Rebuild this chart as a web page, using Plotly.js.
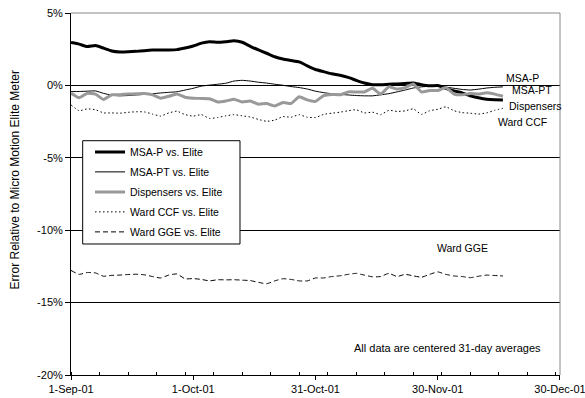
<!DOCTYPE html>
<html><head><meta charset="utf-8">
<script src="https://cdn.plot.ly/plotly-3.0.1.min.js"></script>
<style>html,body{margin:0;padding:0;background:#fff}#chart{width:585px;height:398px}</style>
</head><body><div id="chart"></div>
<script>
// Dates (every second day, 1-Sep-01 to 16-Dec-01)
const dates = ['2001-09-01','2001-09-03','2001-09-05','2001-09-07','2001-09-09','2001-09-11','2001-09-13','2001-09-15','2001-09-17','2001-09-19',
'2001-09-21','2001-09-23','2001-09-25','2001-09-27','2001-09-29','2001-10-01','2001-10-03','2001-10-05','2001-10-07','2001-10-09',
'2001-10-11','2001-10-13','2001-10-15','2001-10-17','2001-10-19','2001-10-21','2001-10-23','2001-10-25','2001-10-27','2001-10-29',
'2001-10-31','2001-11-02','2001-11-04','2001-11-06','2001-11-08','2001-11-10','2001-11-12','2001-11-14','2001-11-16','2001-11-18',
'2001-11-20','2001-11-22','2001-11-24','2001-11-26','2001-11-28','2001-11-30','2001-12-02','2001-12-04','2001-12-06','2001-12-08',
'2001-12-10','2001-12-12','2001-12-14','2001-12-16'];

// Error relative to Micro Motion Elite meter, in %
const msaP = [2.96,2.85,2.68,2.75,2.57,2.38,2.31,2.32,2.35,2.40,
2.44,2.45,2.45,2.47,2.58,2.72,2.92,3.02,2.98,3.02,
3.08,2.98,2.70,2.45,2.22,1.98,1.82,1.72,1.62,1.35,
1.10,0.95,0.80,0.70,0.55,0.35,0.17,0.05,0.05,0.08,
0.10,0.13,0.17,0.05,-0.03,-0.01,-0.20,-0.38,-0.52,-0.72,
-0.85,-0.95,-0.99,-1.00];
const msaPT = [-0.43,-0.42,-0.40,-0.38,-0.55,-0.68,-0.72,-0.70,-0.66,-0.62,
-0.58,-0.52,-0.48,-0.44,-0.32,-0.20,-0.05,0.02,0.08,0.15,
0.30,0.35,0.30,0.22,0.16,0.08,0.01,-0.08,-0.15,-0.25,
-0.40,-0.50,-0.58,-0.62,-0.66,-0.70,-0.72,-0.72,-0.65,-0.57,
-0.45,-0.32,-0.18,-0.10,-0.06,-0.05,-0.12,-0.20,-0.28,-0.32,
-0.26,-0.18,-0.13,-0.10];
const dispensers = [-0.54,-0.85,-0.55,-0.60,-0.98,-0.65,-0.64,-0.60,-0.58,-0.56,
-0.65,-0.88,-0.75,-0.60,-0.82,-0.88,-0.90,-0.92,-1.15,-1.08,
-0.95,-1.14,-1.08,-1.30,-1.25,-1.42,-1.18,-1.25,-0.78,-1.00,
-1.10,-0.70,-0.62,-0.65,-0.45,-0.45,-0.45,-0.20,-0.60,-0.10,
-0.25,-0.15,0.10,-0.45,-0.35,-0.35,-0.15,-0.60,-0.65,-0.56,
-0.60,-0.50,-0.60,-0.75];
const wardCCF = [-1.35,-1.75,-1.62,-1.68,-1.90,-1.90,-1.92,-1.86,-1.82,-1.83,
-1.98,-2.12,-1.90,-1.78,-2.02,-2.12,-2.02,-2.28,-2.22,-2.10,
-2.02,-2.10,-2.18,-2.35,-2.48,-2.40,-2.15,-2.20,-2.02,-2.20,
-2.22,-2.00,-1.92,-1.85,-1.75,-1.68,-1.90,-1.85,-2.02,-1.72,
-1.80,-1.76,-1.62,-2.00,-1.75,-1.65,-1.48,-1.75,-1.88,-1.92,
-1.98,-1.90,-1.72,-1.58];
const wardGGE = [-12.78,-13.05,-12.92,-12.95,-13.18,-13.12,-13.10,-13.06,-13.04,-13.08,
-13.20,-13.30,-13.10,-13.02,-13.36,-13.34,-13.40,-13.50,-13.42,-13.43,
-13.42,-13.45,-13.48,-13.60,-13.70,-13.50,-13.35,-13.40,-13.50,-13.50,
-13.30,-13.30,-13.20,-13.15,-13.05,-12.98,-13.10,-13.22,-13.20,-12.98,
-13.20,-13.05,-13.15,-13.25,-13.05,-12.88,-13.05,-13.16,-13.20,-13.28,
-13.18,-13.10,-13.13,-13.16];

const seriesNames = ['MSA-P vs. Elite','MSA-PT vs. Elite','Dispensers vs. Elite','Ward CCF vs. Elite','Ward GGE vs. Elite'];
const endLabels = ['MSA-P','MSA-PT','Dispensers','Ward CCF','Ward GGE'];
const note = 'All data are centered 31-day averages';
const yTitle = 'Error Relative to Micro Motion Elite Meter';

const xTickVals = ['2001-09-01','2001-10-01','2001-10-31','2001-11-30','2001-12-30'];
const xTickText = ['1-Sep-01','1-Oct-01','31-Oct-01','30-Nov-01','30-Dec-01'];
const yTickVals = [5,0,-5,-10,-15,-20];
const yTickText = ['5%','0%','-5%','-10%','-15%','-20%'];
const xRange = ['2001-09-01','2001-12-30 00:10'];

const styles = [
  {color:'#000', width:3, dash:'solid'},
  {color:'#000', width:1, dash:'solid'},
  {color:'#999', width:3, dash:'solid'},
  {color:'#000', width:1, dash:'1.5px,2.5px'},
  {color:'#000', width:1, dash:'5px,3px'}
];
const values = [msaP, msaPT, dispensers, wardCCF, wardGGE];
const traces = values.map((v,i)=>({
  type:'scatter', mode:'lines', x:dates, y:v, name:seriesNames[i], legendgroup:'g'+i,
  line:Object.assign({shape:'spline', smoothing:0.4}, styles[i]), hoverinfo:'skip'
}));

const FONT = 'Liberation Sans, Arial, sans-serif';
const annFont = {family:FONT, size:10.5, color:'#000'};
const annPos = [[0.8865,0.8213],[0.8971,0.7873],[0.8916,0.7431],[0.8691,0.6981],[0.7444,0.35]];
const annotations = endLabels.map((t,i)=>({
  text:t, xref:'paper', yref:'paper', x:annPos[i][0], y:annPos[i][1],
  xanchor:'left', yanchor:'middle', showarrow:false, font:annFont
}));
annotations.push({text:note, xref:'paper', yref:'paper', x:0.574, y:0.0738,
  xanchor:'left', yanchor:'middle', showarrow:false, font:{family:FONT, size:11, color:'#000'}});
annotations.push({text:yTitle, xref:'paper', yref:'paper', x:-0.1145, y:0.5373, textangle:-90,
  xanchor:'center', yanchor:'middle', showarrow:false, font:{family:FONT, size:12, color:'#000'}});

const layout = {
  width:585, height:398,
  margin:{l:71, r:25, t:13, b:23},
  paper_bgcolor:'#fff', plot_bgcolor:'#fff',
  font:{family:FONT, size:11, color:'#000'},
  showlegend:true,
  legend:{x:0.0389, y:0.6564, xanchor:'left', yanchor:'top', bgcolor:'rgba(0,0,0,0)',
    borderwidth:0, font:{size:10.5}, tracegroupgap:1},
  xaxis:{type:'date', range:xRange, tickvals:xTickVals, ticktext:xTickText, ticklabeloverflow:'allow',
    ticks:'outside', ticklen:4, tickcolor:'#000', showline:true, linecolor:'#000', linewidth:1,
    showgrid:false, zeroline:false, fixedrange:true,
    minor:{ticks:'inside', ticklen:3, dtick:7*86400000, tick0:'2001-09-01', tickcolor:'#000', showgrid:false}},
  xaxis2:{type:'date', overlaying:'x', anchor:'y', side:'bottom', range:xRange,
    tickvals:xTickVals, showticklabels:false, ticks:'inside', ticklen:4, tickcolor:'#000',
    showline:false, showgrid:false, zeroline:false},
  yaxis:{range:[-20,5], tickvals:yTickVals, ticktext:yTickText, ticks:'outside', ticklen:5, tickcolor:'#000',
    showline:true, linecolor:'#000', linewidth:1, showgrid:true, gridcolor:'#000', gridwidth:1,
    zeroline:false, fixedrange:true},
  shapes:[
    {type:'line', xref:'paper', yref:'paper', x0:0, x1:1, y0:1, y1:1, line:{color:'#888', width:1}},
    {type:'line', xref:'paper', yref:'paper', x0:1, x1:1, y0:0, y1:1, line:{color:'#888', width:1}},
    {type:'rect', xref:'paper', yref:'paper', x0:0.0239, x1:0.3456, y0:0.3619, y1:0.6472,
      fillcolor:'#fff', line:{color:'#000', width:1}, layer:'above'}
  ],
  annotations:annotations
};
Plotly.newPlot('chart', traces, layout, {staticPlot:true, displayModeBar:false});
</script></body></html>
